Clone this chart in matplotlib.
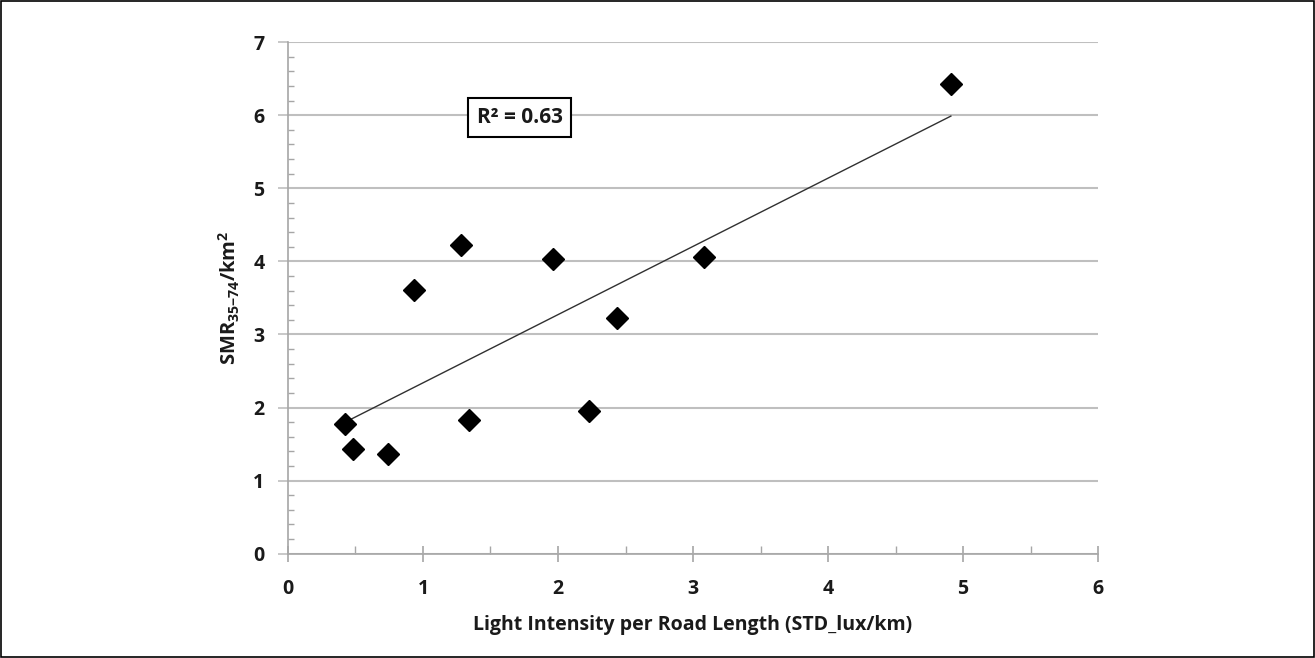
import matplotlib
matplotlib.use("Agg")
import matplotlib.pyplot as plt
from matplotlib.ticker import MultipleLocator
import numpy as np

plt.rcParams['font.family'] = ['Open Sans', 'DejaVu Sans']
plt.rcParams['font.weight'] = 'bold'
plt.rcParams['mathtext.fontset'] = 'custom'
plt.rcParams['mathtext.rm'] = 'Open Sans:bold'
plt.rcParams['mathtext.default'] = 'rm'

# datos
light_intensity = [0.42, 0.48, 0.74, 0.93, 1.28, 1.34, 1.96, 2.23, 2.44, 3.08, 4.91]
smr_per_km2 = [1.78, 1.43, 1.36, 3.61, 4.23, 1.83, 4.03, 1.95, 3.23, 4.06, 6.43]
r2_text = "R² = 0.63"

x_ticks = [0, 1, 2, 3, 4, 5, 6]
y_ticks = [0, 1, 2, 3, 4, 5, 6, 7]

grid_color = '#bfbfbf'
axis_color = '#a6a6a6'
text_color = '#1a1a1a'

fig = plt.figure(figsize=(13.15, 6.58), dpi=100, facecolor='white')
ax = fig.add_axes([0.219, 0.1585, 0.616, 0.7775])

# ajuste lineal
a, b = np.polyfit(light_intensity, smr_per_km2, 1)
x_fit = np.array([min(light_intensity), max(light_intensity)])
ax.plot(x_fit, a * x_fit + b, color='#303030', linewidth=1.0, zorder=3)

ax.plot(light_intensity, smr_per_km2, linestyle='none', marker='D',
        markersize=11.5, color='black', zorder=4)

ax.set_xlim(0, 6)
ax.set_ylim(0, 7)
ax.set_xticks(x_ticks)
ax.set_yticks(y_ticks)
ax.xaxis.set_minor_locator(MultipleLocator(0.5))
ax.yaxis.set_minor_locator(MultipleLocator(0.2))

ax.grid(axis='y', which='major', color=grid_color, linewidth=1.5, zorder=0)
ax.set_axisbelow(True)

for side in ['top', 'right']:
    ax.spines[side].set_visible(False)
for side in ['left', 'bottom']:
    ax.spines[side].set_color(axis_color)
    ax.spines[side].set_linewidth(1.2)

ax.tick_params(axis='y', which='major', direction='out', length=7, width=1.2,
               color=grid_color, labelsize=14, pad=10, labelcolor=text_color)
ax.tick_params(axis='y', which='minor', direction='in', length=4, width=1,
               color=axis_color)
ax.tick_params(axis='x', which='major', direction='inout', length=12, width=1.2,
               color=axis_color, labelsize=14, pad=12, labelcolor=text_color)
ax.tick_params(axis='x', which='minor', direction='in', length=6, width=1,
               color=axis_color)

ax.set_xlabel("Light Intensity per Road Length (STD_lux/km)", fontsize=14,
              fontweight='bold', color=text_color, labelpad=12)
ax.set_ylabel(r"SMR$_{35\mathrm{-}74}$/km$^{2}$", fontsize=14.5,
              fontweight='bold', color=text_color, labelpad=8)

ax.text(1.716, 5.97, r2_text, fontsize=15, fontweight='bold', color=text_color,
        ha='center', va='center',
        bbox=dict(boxstyle='square,pad=0.42', facecolor='white',
                  edgecolor='black', linewidth=1.5))

# marco exterior
fig.patches.append(plt.Rectangle((0.0005, 0.001), 0.999, 0.998,
                                 transform=fig.transFigure, fill=False,
                                 edgecolor='black', linewidth=1.2))

fig.savefig("out.png", dpi=100, facecolor='white')
